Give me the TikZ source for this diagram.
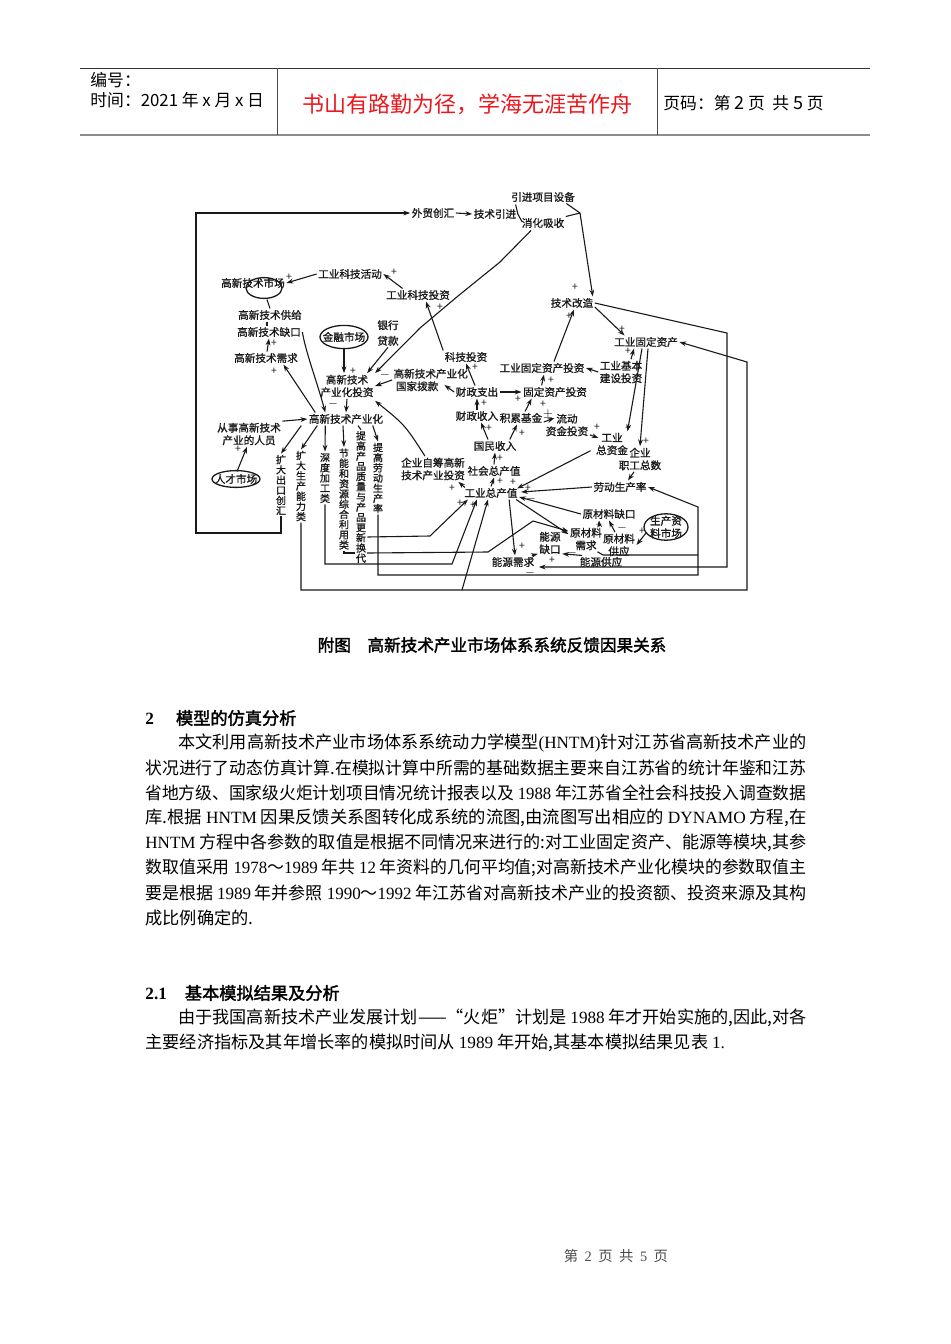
\documentclass[tikz,border=0pt]{standalone}
\usepackage{fontspec}
\usepackage{graphicx}
\setmainfont{Noto Sans CJK SC}[AutoFakeBold=2]
\newfontfamily\dgfam{Noto Sans CJK SC}[FakeBold=1.2]
\newfontfamily\tnr{Liberation Serif}
\usetikzlibrary{arrows.meta,calc}
\definecolor{redt}{RGB}{232,24,30}
\definecolor{ink}{RGB}{25,25,25}
\newcommand\dgf{\dgfam\fontsize{5.3}{6.3}\selectfont}
\newcommand\vtf{\dgfam\fontsize{5}{5.1}\selectfont}
\newcommand\bdf{\fontsize{8.6}{10}\selectfont}
\newcommand\jline[2]{\resizebox{#1}{\height}{#2}}
\newcount\sgc
\newcommand\sgn[2]{\global\advance\sgc by 1 \node[sgs] (sg\the\sgc) at (#1) {#2};}
\begin{document}
\begin{tikzpicture}[x=0.5pt,y=-0.5pt,
 lab/.style={font=\dgf, inner sep=0.6pt, align=center, text=ink},
 vt/.style={font=\vtf, inner sep=0.5pt, align=center, text width=5pt, text=ink},
 sgs/.style={font=\fontsize{5.2}{5}\selectfont, inner sep=0pt, text=ink},
 ln/.style={draw=ink, line width=0.55pt},
 ar/.style={ln, -{Stealth[length=3.4pt,width=2.4pt]}},
 mk/.style={draw=ink, line width=0.65pt},
 bl/.style={anchor=west, inner sep=0pt, font=\bdf},
 hd/.style={anchor=west, inner sep=0pt, font=\fontsize{8.4}{10}\selectfont}]
\useasboundingbox (0,0) rectangle (950,1344);
% ---------- header ----------
\draw[line width=0.5pt, draw=black!80] (80,68) -- (870,68);
\draw[line width=1pt, draw=black!45] (80,135) -- (870,135);
\draw[line width=0.5pt, draw=black!70] (277,68) -- (277,135);
\draw[line width=0.5pt, draw=black!70] (657,68) -- (657,135);
\node[hd] (h1) at (90,80) {编号：};
\node[hd] (h2) at (90,100) {时间：2021 年 x 月 x 日};
\node[inner sep=0pt, font=\fontsize{11}{12}\selectfont, text=redt] (h3) at (467,104) {书山有路勤为径，学海无涯苦作舟};
\node[hd] (h4) at (663,103) {页码：第 {\small 2} 页\ \ 共 {\small 5} 页};
% ---------- diagram nodes ----------
\node[lab] (yxsb) at (543,197) {引进项目设备};
\node[lab] (wmch) at (433,213) {外贸创汇};
\node[lab] (jsyj) at (495,214) {技术引进};
\node[lab] (xhxs) at (543,223) {消化吸收};
\node[lab] (gykjhd) at (350,274) {工业科技活动};
\node[lab] (gxjssc) at (253,283) {高新技术市场};
\node[lab] (gykjtz) at (418,295) {工业科技投资};
\node[lab] (jsgz) at (572,303) {技术改造};
\node[lab] (gxgj) at (270,315) {高新技术供给};
\node[lab] (gxqk) at (269,332) {高新技术缺口};
\node[lab] (jrsc) at (344,337) {金融市场};
\node[lab] (yhdk) at (388,333) {银行\\[1.5pt]贷款};
\node[lab] (gygdzc) at (646,342) {工业固定资产};
\node[lab] (gxxq) at (266,358) {高新技术需求};
\node[lab] (kjtz) at (466,357) {科技投资};
\node[lab] (gygdzctz) at (542,368) {工业固定资产投资};
\node[lab] (gyjbjs) at (621,372) {工业基本\\建设投资};
\node[lab, anchor=west, align=left] (bk) at (392,380) {高新技术产业化\\\ 国家拨款};
\node[lab] (gxtz) at (347,386) {高新技术\\产业化投资};
\node[lab] (czzc) at (477,392) {财政支出};
\node[lab] (gdzctz) at (555,392) {固定资产投资};
\node[lab] (czsr) at (477,416) {财政收入};
\node[lab] (ljjj) at (521,418) {积累基金};
\node[lab] (ldzj) at (567,425) {流动\\资金投资};
\node[lab] (gyzzj) at (612,444) {工业\\总资金};
\node[lab] (qyzg) at (640,459) {企业\\职工总数};
\node[lab] (csry) at (249,434) {从事高新技术\\产业的人员};
\node[lab] (gxcyh) at (346,419) {高新技术产业化};
\node[lab] (gmsr) at (495,446) {国民收入};
\node[lab] (rcsc) at (236,479) {人才市场};
\node[lab] (qyzc) at (433,469) {企业自筹高新\\技术产业投资};
\node[lab] (shzcz) at (494,471) {社会总产值};
\node[lab] (gyzcz) at (491,493) {工业总产值};
\node[lab] (ldscl) at (620,487) {劳动生产率};
\node[lab] (ycqk) at (609,514) {原材料缺口};
\node[lab] (scsc) at (666,527) {生产资\\料市场};
\node[lab] (ycxq) at (586,539) {原材料\\需求};
\node[lab] (nyqk) at (550,543) {能源\\缺口};
\node[lab] (ycgy) at (619,545) {原材料\\供应};
\node[lab] (nyxq) at (513,562) {能源需求};
\node[lab] (nygy) at (601,562) {能源供应};
\node[vt] (v1) at (281,485) {扩\\大\\出\\口\\创\\汇};
\node[vt] (v2) at (301,486) {扩\\大\\生\\产\\能\\力\\类};
\node[vt] (v3) at (325,478) {深\\度\\加\\工\\类};
\node[vt] (v4) at (344,499) {节\\能\\和\\资\\源\\综\\合\\利\\用\\类};
\node[vt] (v5) at (361,497) {提\\高\\产\\品\\质\\量\\与\\产\\品\\更\\新\\换\\代};
\node[vt] (v6) at (378,478) {提\\高\\劳\\动\\生\\产\\率};
% market ellipses
\draw[mk] (264,288) ellipse [x radius=9pt, y radius=5.2pt];
\draw[mk] (jrsc) ellipse [x radius=12pt, y radius=5.8pt];
\draw[mk] (rcsc) ellipse [x radius=12pt, y radius=4.2pt];
\draw[mk] (scsc) ellipse [x radius=11pt, y radius=6.6pt];
% ---------- connectors ----------
\draw[ar] (v1.south) -- (281,533) -- (196,533) -- (196,213) -- (wmch.west);
\draw[ar] (wmch.east) -- (jsyj.west);
\draw[ln] (jsyj.east) -- ($(yxsb.south west)+(6,1)$);
\draw[ln] (jsyj.east) -- ($(xhxs.west)+(2,-1)$);
\coordinate (c1) at (580,213);
\draw[ln] ($(yxsb.south east)+(-10,0)$) -- (c1);
\draw[ln] (xhxs.north east) -- (c1);
\draw[ar] (c1) -- ($(jsgz.north east)+(-2,0)$); \sgn{575,287}{+}
\draw[ar] ($(xhxs.south)+(-12,1)$) -- (500,262) -- (458,296) -- (420,328) -- (gxtz.north east);
\draw[ar] ($(gykjtz.north west)+(18,0)$) -- (gykjhd.east); \sgn{394,272}{+}
\draw[ar] (gykjhd.west) -- (gxjssc.east); \sgn{289,277}{+}
\draw[ar] (kjtz.north west) -- ($(gykjtz.south)+(8,0)$); \sgn{440,307}{+}
\draw[ar] ($(czzc.north)+(-2,0)$) -- (kjtz.south); \sgn{475,367}{+}
\draw[ln] ($(gxjssc.south)+(14,10)$) -- (gxgj.north);
\draw[ln] ($(gxgj.south)+(-3,0)$) -- ($(gxqk.north)+(-2,0)$);
\draw[ar] ($(gxxq.north)+(1,0)$) -- (gxqk.south); \sgn{274,343}{+}
\draw[ar] (gxqk.east) .. controls (305,350) and (318,385) .. ($(gxcyh.north west)+(18,0)$); \sgn{333,404}{$-$}
\draw[ar] ($(gxcyh.north west)+(8,0)$) -- ($(gxxq.south east)+(-16,0)$); \sgn{274,371}{+}
\draw[ar] ($(jrsc.south)+(0,5)$) -- ($(gxtz.north)+(-3,0)$); \sgn{353,371}{+}
\draw[ar] (yhdk.south) -- ($(gxtz.north east)+(-8,0)$);
\draw[ar] (bk.west) -- (gxtz.east); \sgn{385,375}{$-$}
\draw[ar] (czzc.west) -- ($(bk.east)+(-25,5)$);
\draw[ar] (gxtz.south) -- (gxcyh.north);
\draw[ar] ($(qyzc.north)+(-8,0)$) .. controls (405,425) .. ($(gxtz.south east)+(0,2)$);
\draw[ar] ($(gyzcz.north west)+(2,1)$) -- ($(qyzc.south east)+(-8,0)$); \sgn{452,488}{+}
\draw[ar] (csry.north east) -- (gxcyh.west);
\draw[ar] ($(rcsc.north)+(1,-1)$) -- ($(csry.south)+(-2,0)$); \sgn{238,449}{+}
\draw[ar] ($(gxcyh.south west)+(-6,0)$) -- (v1.north);
\draw[ar] ($(gxcyh.south west)+(10,0)$) -- (v2.north);
\draw[ar] ($(gxcyh.south west)+(18,0)$) -- (v3.north);
\draw[ar] ($(gxcyh.south)+(-3,0)$) -- (v4.north);
\draw[ln] ($(gxcyh.south)+(12,0)$) -- (v5.north);
\draw[ar] ($(gxcyh.south east)+(-12,0)$) -- (v6.north);
% bottom routes
\draw[ar] (v2.south) -- (301,590) -- (747,590) -- (747,362) -- (gygdzc.east);
\draw[ar] (462,590) -- ($(gyzcz.south)+(-3,0)$);
\draw[ar] (v3.south) -- (325,564) -- (452,564) -- ($(gyzcz.south west)+(14,0)$); \sgn{473,505}{+}
\draw[ar] ($(v5.east)+(0,40)$) -- (430,536) -- ($(gyzcz.south west)+(5,0)$); \sgn{460,503}{+}
\draw[ln] (v4.south) -- (344,553) -- (355,553);
\draw[ar] (367,553) -- (488,552) -- (533,521) -- ($(ycxq.north west)+(0,5)$);
\draw[ar] (v6.south) -- (378,575) -- (698,575) -- (698,507) -- (ldscl.east);
\draw[ln] ($(ycxq.south east)+(-6,0)$) -- (603,555) -- (698,555);
\draw[ar] (jsgz.east) -- (727,333) -- (727,567) -- ($(nyxq.east)+(3,5)$); \sgn{530,573}{$-$}
\draw[ar] ($(jsgz.east)+(0,4)$) -- ($(gygdzc.north west)+(12,0)$); \sgn{622,329}{+}
\draw[ar] ($(gygdzctz.north)+(12,0)$) -- ($(jsgz.south)+(2,0)$); \sgn{569,316}{+}
\draw[ar] (gyjbjs.west) -- (gygdzctz.east);
\draw[ar] ($(gyjbjs.north)+(10,0)$) -- ($(gygdzc.south)+(-12,0)$); \sgn{628,351}{+}
\draw[ar] ($(gygdzc.south)+(-4,0)$) -- ($(gyzzj.north east)+(-2,0)$); \sgn{628,428}{+}
\draw[ar] ($(gygdzc.south)+(2,0)$) -- (qyzg.north); \sgn{646,441}{+}
\draw[ar] (czsr.north) -- (czzc.south); \sgn{484,403}{+}
\draw[ar] (czzc.east) -- (gdzctz.west); \sgn{518,399}{+}
\draw[ar] ($(gdzctz.north west)+(20,0)$) -- ($(gygdzctz.south)+(2,0)$); \sgn{551,380}{+}
\draw[ar] ($(ljjj.north)+(4,0)$) -- ($(gdzctz.south west)+(10,0)$); \sgn{543,404}{+}
\draw[ar] ($(ljjj.east)+(0,4)$) -- ($(ldzj.north west)+(10,6)$); \sgn{548,415}{$\pm$}
\draw[ar] ($(ldzj.south east)+(0,-3)$) -- ($(gyzzj.west)+(4,-6)$); \sgn{597,427}{+}
\draw[ar] ($(gmsr.north)+(-7,0)$) -- ($(czsr.south)+(4,0)$); \sgn{489,428}{+}
\draw[ar] ($(gmsr.north east)+(-8,0)$) -- ($(ljjj.south)+(-4,0)$); \sgn{522,433}{+}
\draw[ar] (shzcz.north) -- (gmsr.south); \sgn{500,458}{+}
\draw[ar] (gyzcz.north) -- (shzcz.south); \sgn{500,481}{+}
\draw[ar] ($(gyzzj.south west)+(-4,-6)$) -- ($(gyzcz.north east)+(-2,2)$); \sgn{513,482}{+}
\draw[ar] (ldscl.west) -- ($(gyzcz.east)+(2,-1)$); \sgn{528,488}{+}
\draw[ar] ($(qyzg.south)+(-6,0)$) -- ($(ldscl.north)+(8,0)$);
\draw[ar] (ycqk.west) -- ($(gyzcz.east)+(0,4)$); \sgn{531,499}{$-$}
\draw[ar] ($(gyzcz.south east)+(-3,0)$) -- ($(ycxq.north west)+(0,8)$);
\draw[ar] ($(gyzcz.south east)+(-10,0)$) -- ($(nyxq.north)+(2,0)$); \sgn{522,546}{+}
\draw[ar] ($(ycxq.north east)+(-4,0)$) -- ($(ycqk.south)+(-10,0)$); \sgn{599,525}{+}
\draw[ar] ($(ycgy.north)+(-4,0)$) -- (ycqk.south); \sgn{622,528}{$-$}
\draw[ar] (646,533) -- (ycgy.east); \sgn{642,531}{+}
\draw[ar] ($(nyxq.north east)+(-4,0)$) -- ($(nyqk.south west)+(0,-2)$); \sgn{552,560}{+}
\draw[ar] ($(nygy.north west)+(4,0)$) -- ($(nyqk.south east)+(0,-2)$); \sgn{572,553}{$-$}
% ---------- caption and body ----------
\node[inner sep=0pt, font=\fontsize{8.3}{10}\selectfont\bfseries] (cap) at (492,645) {附图\quad 高新技术产业市场体系系统反馈因果关系};
\node[bl] (t0) at (145,718) {\bfseries{\tnr\bfseries 2}\hspace{11pt}模型的仿真分析};
\node[bl] (b1) at (178,743) {\jline{314pt}{本文利用高新技术产业市场体系系统动力学模型{\tnr(HNTM)}针对江苏省高新技术产业的}};
\node[bl] (b2) at (145,768) {\jline{330.5pt}{状况进行了动态仿真计算.在模拟计算中所需的基础数据主要来自江苏省的统计年鉴和江苏}};
\node[bl] (b3) at (145,793) {\jline{330.5pt}{省地方级、国家级火炬计划项目情况统计报表以及 {\tnr 1988} 年江苏省全社会科技投入调查数据}};
\node[bl] (b4) at (145,818) {\jline{330.5pt}{库.根据 {\tnr HNTM} 因果反馈关系图转化成系统的流图,由流图写出相应的 {\tnr DYNAMO} 方程,在}};
\node[bl] (b5) at (145,843) {\jline{330.5pt}{{\tnr HNTM} 方程中各参数的取值是根据不同情况来进行的:对工业固定资产、能源等模块,其参}};
\node[bl] (b6) at (145,868) {\jline{330.5pt}{数取值采用 {\tnr 1978}～{\tnr 1989} 年共 {\tnr 12} 年资料的几何平均值;对高新技术产业化模块的参数取值主}};
\node[bl] (b7) at (145,893) {\jline{330.5pt}{要是根据 {\tnr 1989} 年并参照 {\tnr 1990}～{\tnr 1992} 年江苏省对高新技术产业的投资额、投资来源及其构}};
\node[bl] (b8) at (145,918) {成比例确定的.};
\node[bl] (t1) at (145,993) {\bfseries{\tnr\bfseries 2.1}\hspace{9pt}基本模拟结果及分析};
\node[bl] (p1) at (178,1018) {\jline{314pt}{由于我国高新技术产业发展计划——“火炬”计划是 {\tnr 1988} 年才开始实施的,因此,对各}};
\node[bl] (p2) at (145,1043) {主要经济指标及其年增长率的模拟时间从 {\tnr 1989} 年开始,其基本模拟结果见表 {\tnr 1.}};
\node[inner sep=0pt, font=\fontsize{7.2}{9}\selectfont, text=black!70] (ft) at (616,1256) {第\ \ {\tnr 2}\ \ 页\ \ 共\ \ {\tnr 5}\ \ 页};
\end{tikzpicture}
\end{document}
